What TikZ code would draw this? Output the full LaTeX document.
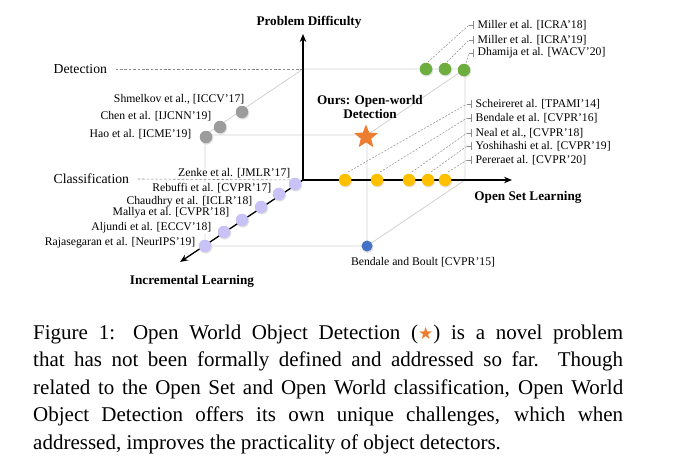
\documentclass[tikz,border=0pt]{standalone}
\usepackage{fontspec}
\setmainfont{Liberation Serif}
\newfontfamily\dejavu{DejaVu Sans}
\usetikzlibrary{shapes.geometric,arrows.meta,shadows}
\definecolor{cgreen}{HTML}{6DAE3F}
\definecolor{cyellow}{HTML}{FFC000}
\definecolor{cpurple}{HTML}{C8C2F6}
\definecolor{cgray}{HTML}{9C9C9C}
\definecolor{cblue}{HTML}{4472C4}
\definecolor{corange}{HTML}{ED7D31}
\definecolor{cedge}{HTML}{D2D2D2}
\tikzset{
  edge/.style={draw=cedge, line width=0.8pt},
  axisline/.style={draw=black, line width=1.3pt, -{Stealth[length=8pt,width=6.5pt]}},
  guide/.style={draw=black!45, line width=0.6pt, dash pattern=on 2.6pt off 1.8pt},
  leaderline/.style={draw=black!45, line width=0.5pt, dash pattern=on 2pt off 1.5pt},
  tickline/.style={draw=black!45, line width=0.5pt},
  lab/.style={font=\fontsize{11.7}{13}\selectfont, inner sep=0.5pt, fill=white},
  levellab/.style={font=\fontsize{13.7}{15}\selectfont, inner sep=0.5pt},
  boldlab/.style={font=\fontsize{13.2}{14}\selectfont\bfseries, inner sep=0.5pt, align=center},
  dotnode/.style={circle, inner sep=0pt, minimum size=12.5pt, draw=none,
     circular drop shadow={shadow xshift=0.5pt, shadow yshift=-0.8pt, opacity=0.25}},
  capline/.style={font=\fontsize{21}{27}\selectfont, anchor=base west, inner sep=0pt}
}
\newcommand{\leadto}[3]{%
  \draw[leaderline] ([shift={(#3)}]#1.center) -- ([xshift=-8pt]#2.west);
  \draw[tickline] ([xshift=-8pt]#2.west) -- ([xshift=-4pt]#2.west);
  \draw[tickline] ([xshift=-4pt,yshift=-4pt]#2.west) -- ([xshift=-4pt,yshift=4pt]#2.west);
}
\begin{document}
\begin{tikzpicture}[x=1pt,y=-1pt]
\useasboundingbox[fill=white] (0,0) rectangle (695,468);
% cube corners
\coordinate (O) at (303,180);
\coordinate (A) at (303,69);
\coordinate (B) at (205,135);
\coordinate (C) at (465,69);
\coordinate (D) at (367,135);
\coordinate (E) at (205,246);
\coordinate (F) at (367,246);
\coordinate (G) at (465,180);
\coordinate (Up) at (303,34);
\coordinate (Rt) at (512,180);
\coordinate (DL) at (180,262);
% cube edges
\draw[edge] (A) -- (C) (A) -- (B) (B) -- (D) (C) -- (D) (D) -- (F)
            (B) -- (E) (E) -- (F) (C) -- (G) (G) -- (F);
% level labels
\node[levellab, anchor=west] (det) at (53,69) {Detection};
\node[levellab, anchor=west] (cls) at (53,179) {Classification};
\draw[guide] ([xshift=8pt]det.east) -- (A);
\draw[guide] ([xshift=8pt]cls.east) -- (O);
% axes
\draw[axisline] (O) -- (Up);
\draw[axisline] (O) -- (Rt);
\draw[axisline] (O) -- (DL);
% axis titles
\node[boldlab] (pd) at (309,22) {Problem Difficulty};
\node[boldlab] (osl) at (528,197) {Open Set Learning};
\node[boldlab] (il) at (192,281) {Incremental Learning};
\node[boldlab] (ours) at (370,107) {Ours: Open-world\\Detection};
% left labels
\node[lab, anchor=east] (l1) at (245,99) {Shmelkov et al., [ICCV'17]};
\node[lab, anchor=east] (l2) at (212,116) {Chen et al. [IJCNN'19]};
\node[lab, anchor=east] (l3) at (192,134) {Hao et al. [ICME'19]};
\node[lab, anchor=east] (p1l) at (291,173) {Zenke et al. [JMLR'17]};
\node[lab, anchor=east] (p2l) at (272,188) {Rebuffi et al. [CVPR'17]};
\node[lab, anchor=east] (p3l) at (253,202) {Chaudhry et al. [ICLR'18]};
\node[lab, anchor=east] (p4l) at (230,213) {Mallya et al. [CVPR'18]};
\node[lab, anchor=east] (p5l) at (212,228) {Aljundi et al. [ECCV'18]};
\node[lab, anchor=east] (p6l) at (196,243) {Rajasegaran et al. [NeurIPS'19]};
% right labels
\node[lab, anchor=west] (gl1) at (477,25) {Miller et al. [ICRA'18]};
\node[lab, anchor=west] (gl2) at (477,40) {Miller et al. [ICRA'19]};
\node[lab, anchor=west] (gl3) at (477,53) {Dhamija et al. [WACV'20]};
\node[lab, anchor=west] (yl1) at (475,104) {Scheireret al. [TPAMI'14]};
\node[lab, anchor=west] (yl2) at (475,118) {Bendale et al. [CVPR'16]};
\node[lab, anchor=west] (yl3) at (475,133) {Neal et al., [CVPR'18]};
\node[lab, anchor=west] (yl4) at (475,146) {Yoshihashi et al. [CVPR'19]};
\node[lab, anchor=west] (yl5) at (475,160) {Pereraet al. [CVPR'20]};
\node[lab] (bl) at (423,262) {Bendale and Boult [CVPR'15]};
% dots
\node[dotnode, fill=cgray] (k1) at (242,112) {};
\node[dotnode, fill=cgray] (k2) at (220,127) {};
\node[dotnode, fill=cgray] (k3) at (206,137) {};
\node[dotnode, fill=cgreen] (g1) at (426,69) {};
\node[dotnode, fill=cgreen] (g2) at (445,69) {};
\node[dotnode, fill=cgreen] (g3) at (464,70) {};
\node[dotnode, fill=cyellow] (y1) at (345,180) {};
\node[dotnode, fill=cyellow] (y2) at (377,180) {};
\node[dotnode, fill=cyellow] (y3) at (409,180) {};
\node[dotnode, fill=cyellow] (y4) at (428,180) {};
\node[dotnode, fill=cyellow] (y5) at (445,180) {};
\node[dotnode, fill=cpurple] (p1) at (295,184) {};
\node[dotnode, fill=cpurple] (p2) at (279,194) {};
\node[dotnode, fill=cpurple] (p3) at (261,207) {};
\node[dotnode, fill=cpurple] (p4) at (242,220) {};
\node[dotnode, fill=cpurple] (p5) at (224,232) {};
\node[dotnode, fill=cpurple] (p6) at (205,246) {};
\node[dotnode, fill=cblue, minimum size=11pt] (bd) at (367,246) {};
\node[star, star points=5, star point ratio=2.3, minimum size=25pt, inner sep=0pt,
      fill=corange, draw=none] (st) at (366,137) {};
% leaders
\leadto{g1}{gl1}{2,-7}
\leadto{g2}{gl2}{2,-7}
\leadto{g3}{gl3}{2,-7}
\leadto{y1}{yl1}{3,-8}
\leadto{y2}{yl2}{3,-8}
\leadto{y3}{yl3}{3,-8}
\leadto{y4}{yl4}{3,-8}
\leadto{y5}{yl5}{3,-8}
% caption
\node[capline] (c1) at (33,339) {\makebox[590pt][s]{Figure 1: Open World Object Detection ({\dejavu\fontsize{17}{20}\selectfont\color{corange}★}) is a novel problem}};
\node[capline] (c2) at (33,366.5) {\makebox[590pt][s]{that has not been formally defined and addressed so far.\ \ Though}};
\node[capline] (c3) at (33,394) {\makebox[590pt][s]{related to the Open Set and Open World classification, Open World}};
\node[capline] (c4) at (33,421.5) {\makebox[590pt][s]{Object Detection offers its own unique challenges, which when}};
\node[capline] (c5) at (33,449) {addressed, improves the practicality of object detectors.};
\end{tikzpicture}
\end{document}
